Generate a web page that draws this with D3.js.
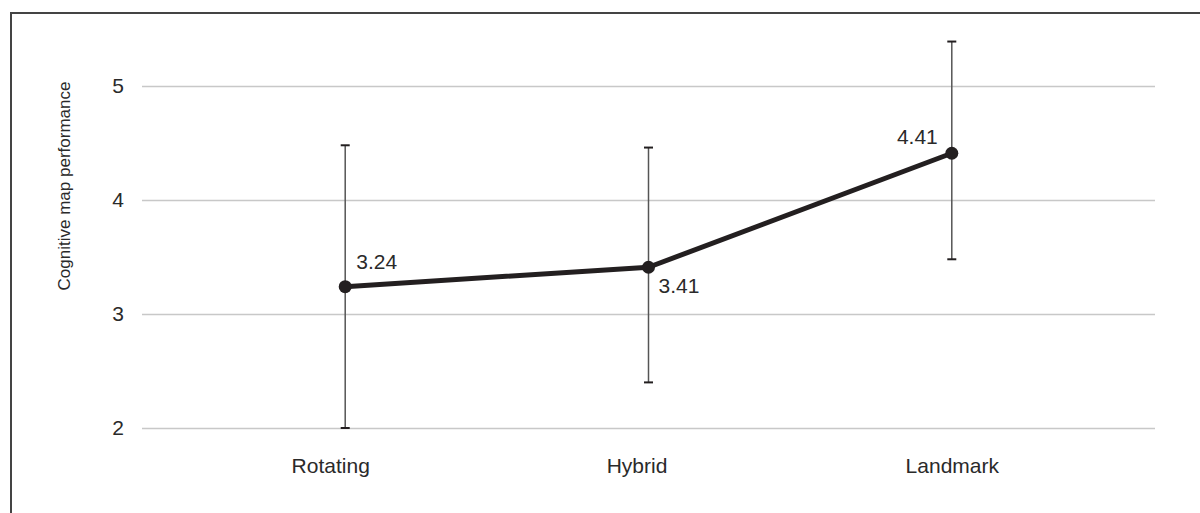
<!DOCTYPE html>
<html>
<head>
<meta charset="utf-8">
<script src="https://cdn.jsdelivr.net/npm/d3@7"></script>
<style>
  body { margin: 0; background: #fff; }
  svg { display: block; font-family: "Liberation Sans", Arial, sans-serif; }
</style>
</head>
<body>
<div id="chart"></div>
<script>
// Cognitive map performance by condition, with error bars

const categories = ["Rotating", "Hybrid", "Landmark"];
const means = [3.24, 3.41, 4.41];
const upper = [4.48, 4.46, 5.39];
const lower = [2.0, 2.40, 3.48];
const yTicks = [2, 3, 4, 5];

const data = categories.map((c, i) => ({ cat: c, mean: means[i], hi: upper[i], lo: lower[i] }));

const width = 1200,
      height = 513,
      margin = ({ top: 86, right: 45, bottom: 85, left: 142 });

let svg = d3.select("#chart")
    .append("svg")
    .attr("width", width)
    .attr("height", height);

// frame around the figure (runs off the right and bottom edges)
svg.append("path")
    .attr("d", `M11,${height + 5}V13H${width + 5}`)
    .attr("fill", "none")
    .attr("stroke", "#444")
    .attr("stroke-width", 2);

let x = d3.scalePoint()
    .domain(categories)
    .range([margin.left, width - margin.right])
    .padding(0.67);

let y = d3.scaleLinear()
    .domain([2, 5])
    .range([height - margin.bottom, margin.top]);

// gridlines + y tick labels
let yAxis = svg.append("g")
    .attr("transform", `translate(${margin.left},0)`)
    .call(d3.axisLeft(y).tickValues(yTicks).tickFormat(d3.format("d"))
        .tickSize(-(width - margin.right - margin.left)).tickPadding(18));
yAxis.select(".domain").remove();
yAxis.selectAll(".tick line").attr("stroke", "#c8c8c8").attr("stroke-width", 1.5);
yAxis.selectAll(".tick text")
    .attr("font-size", 21)
    .attr("font-family", "Liberation Sans, Arial, sans-serif")
    .attr("fill", "#2a2a2a");

// category labels (the source sets the first two slightly left of their points)
const labelShift = [-15, -12, 0];
let xAxis = svg.append("g")
    .attr("transform", `translate(0,${height - margin.bottom})`)
    .call(d3.axisBottom(x).tickSize(0).tickPadding(30));
xAxis.select(".domain").remove();
xAxis.selectAll(".tick text")
    .attr("dx", (d, i) => labelShift[i])
    .attr("font-size", 21)
    .attr("font-family", "Liberation Sans, Arial, sans-serif")
    .attr("fill", "#2a2a2a");

// y axis title
svg.append("text")
    .attr("transform", `translate(70,186) rotate(-90)`)
    .attr("text-anchor", "middle")
    .attr("font-size", 17)
    .attr("fill", "#2a2a2a")
    .text("Cognitive map performance");

// error bars
let err = svg.selectAll(".err")
    .data(data)
    .join("g")
    .attr("class", "err");

err.append("line")
    .attr("x1", d => x(d.cat)).attr("x2", d => x(d.cat))
    .attr("y1", d => y(d.hi)).attr("y2", d => y(d.lo))
    .attr("stroke", "#555")
    .attr("stroke-width", 1.5);

for (let key of ["hi", "lo"]) {
    err.append("line")
        .attr("x1", d => x(d.cat) - 4.5).attr("x2", d => x(d.cat) + 4.5)
        .attr("y1", d => y(d[key])).attr("y2", d => y(d[key]))
        .attr("stroke", "#231f20")
        .attr("stroke-width", 2);
}

// mean line
svg.append("path")
    .datum(data)
    .attr("fill", "none")
    .attr("stroke", "#231f20")
    .attr("stroke-width", 5)
    .attr("stroke-linejoin", "round")
    .attr("d", d3.line().x(d => x(d.cat)).y(d => y(d.mean)));

svg.selectAll(".pt")
    .data(data)
    .join("circle")
    .attr("class", "pt")
    .attr("cx", d => x(d.cat))
    .attr("cy", d => y(d.mean))
    .attr("r", 6.5)
    .attr("fill", "#231f20");

// value labels: above-right, below-right, above-left
const labelPos = [
    { dx: 11, dy: -18, anchor: "start" },
    { dx: 10, dy: 26, anchor: "start" },
    { dx: -14, dy: -9, anchor: "end" }
];
svg.selectAll(".val")
    .data(data)
    .join("text")
    .attr("class", "val")
    .attr("x", (d, i) => x(d.cat) + labelPos[i].dx)
    .attr("y", (d, i) => y(d.mean) + labelPos[i].dy)
    .attr("text-anchor", (d, i) => labelPos[i].anchor)
    .attr("font-size", 21)
    .attr("fill", "#2a2a2a")
    .text(d => d3.format(".2f")(d.mean));
</script>
</body>
</html>
